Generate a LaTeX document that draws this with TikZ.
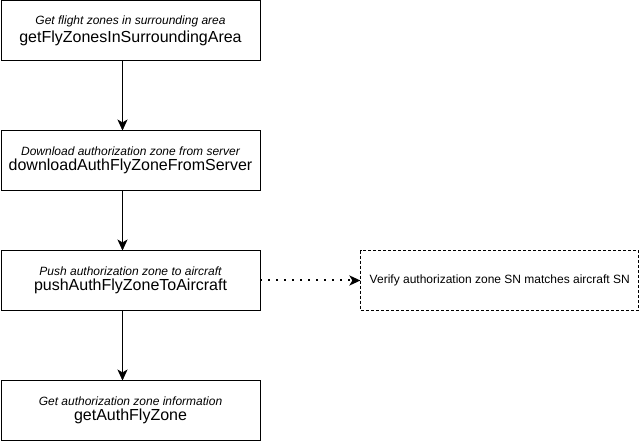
\documentclass[tikz,border=0pt]{standalone}
\usepackage{fontspec}
\setmainfont{Liberation Sans}
\usetikzlibrary{arrows.meta,calc,positioning}
\tikzset{
    -{Stealth[length=11pt,width=10pt,inset=3pt]},auto,node distance =70pt and 100pt,
    line width=2pt,
    func/.style ={rectangle, draw, line width=0.8pt, minimum width = 259pt, minimum height = 59.2pt, align=center, inner sep=0pt},
    check/.style ={func, dashed, dash pattern=on 3pt off 2pt, minimum width = 278pt},
    async/.style={line width=2pt, dash pattern=on 2pt off 6pt}
}
\newcommand{\funcdesc}[1]{{\fontsize{12}{14}\selectfont\itshape #1}}
\newcommand{\funcname}[1]{{\fontsize{16}{18}\selectfont #1}}

\begin{document}
\begin{tikzpicture}[x=1pt,y=1pt]

    \useasboundingbox (0,0) rectangle (641,-441);

    \node[func] (zones) at (130.5,-30.5) {\funcdesc{Get flight zones in surrounding area}\\[3pt]\funcname{getFlyZonesInSurroundingArea}};

    % each step sits below the one before
    \node[func] (download) [below = 70pt of zones] {\funcdesc{Download authorization zone from server}\\[3pt]\funcname{downloadAuthFlyZoneFromServer}};

    \node[func] (push) [below = 60pt of download] {\funcdesc{Push authorization zone to aircraft}\\[3pt]\funcname{pushAuthFlyZoneToAircraft}};

    \node[func] (info) [below = 70pt of push] {\funcdesc{Get authorization zone information}\\[3pt]\funcname{getAuthFlyZone}};

    % check box to the right of the push step
    \node[check] (verify) [right = 100pt of push] {\fontsize{12}{14}\selectfont Verify authorization zone SN matches aircraft SN};

    % call order
    \draw ($(zones.south)+(-8,0)$) -- ($(download.north)+(-8,0)$);
    \draw ($(download.south)+(-8,0)$) -- ($(push.north)+(-8,0)$);
    \draw ($(push.south)+(-8,0)$) -- ($(info.north)+(-8,0)$);

    % dotted edge
    \path[async] (push) edge (verify);

\end{tikzpicture}
\end{document}
